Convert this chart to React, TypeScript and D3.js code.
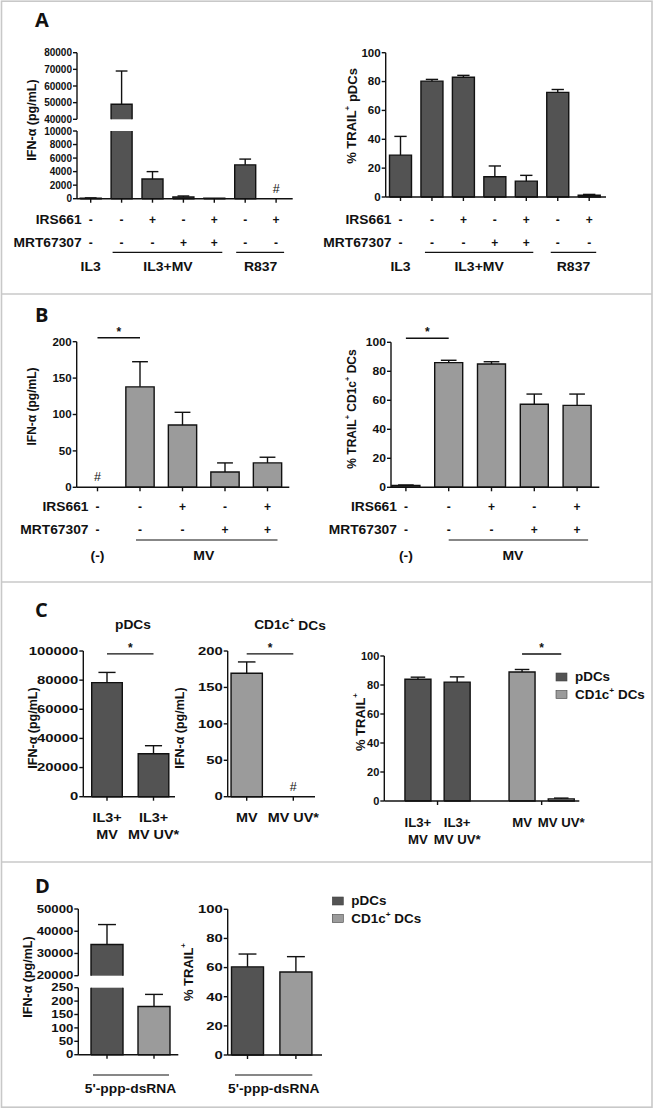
import React from "react";
import * as d3 from "d3";

const FONT = "'Liberation Sans', Arial, Helvetica, sans-serif";
const DARK = "#535353";
const LIGHT = "#9b9b9b";
const INK = "#111111";
const FRAME = "#c8c8c8";

// ---- panel A : pDCs ----
const aConditions = ["IL3", "MV", "MV+IRS661", "MV+MRT67307", "MV+IRS661+MRT67307", "R837", "R837+IRS661"];
const aIrs661 = ["-", "-", "+", "-", "+", "-", "+"];
const aMrt67307 = ["-", "-", "-", "+", "+", "-", "-"];
const aIfnMean: (number | null)[] = [80, 49000, 2900, 250, 60, 5000, null];
const aIfnErr = [40, 20000, 1100, 150, 0, 850, 0];
const aTrailMean = [29, 80.3, 83, 14, 11, 72.5, 1.2];
const aTrailErr = [13, 1.2, 1.3, 7.5, 4, 2, 0.6];
const aGroups = [
  { label: "IL3", from: 0, to: 0, line: false },
  { label: "IL3+MV", from: 1, to: 4, line: true },
  { label: "R837", from: 5, to: 6, line: true },
];
const aIfnTicksLow = [0, 2000, 4000, 6000, 8000, 10000];
const aIfnTicksHigh = [40000, 50000, 60000, 70000, 80000];
const pctTicks = [0, 20, 40, 60, 80, 100];

// ---- panel B : CD1c+ DCs ----
const bConditions = ["(-)", "MV", "MV+IRS661", "MV+MRT67307", "MV+IRS661+MRT67307"];
const bIrs661 = ["-", "-", "+", "-", "+"];
const bMrt67307 = ["-", "-", "-", "+", "+"];
const bIfnMean: (number | null)[] = [null, 138, 85.5, 21, 33.5];
const bIfnErr = [0, 34.5, 17.5, 12.5, 7.8];
const bTrailMean = [1.2, 86, 85, 57.3, 56.5];
const bTrailErr = [0.4, 1.6, 1.6, 7, 7.8];
const bGroups = [
  { label: "(-)", from: 0, to: 0, line: false },
  { label: "MV", from: 1, to: 4, line: true },
];
const bIfnTicks = [0, 50, 100, 150, 200];

// ---- panel C : live vs UV-inactivated MV ----
const cPdcConditions = ["IL3+MV", "IL3+MV UV*"];
const cPdcLabels = [["IL3+", "MV"], ["IL3+", "MV UV*"]];
const cPdcIfnMean = [78300, 29500];
const cPdcIfnErr = [7000, 5500];
const cPdcTicks = [0, 20000, 40000, 60000, 80000, 100000];
const cDcConditions = ["MV", "MV UV*"];
const cDcLabels = [["MV"], ["MV UV*"]];
const cDcIfnMean: (number | null)[] = [169.5, null];
const cDcIfnErr = [15.5, 0];
const cDcTicks = [0, 50, 100, 150, 200];
const cTrailCell = ["pDCs", "pDCs", "CD1c+ DCs", "CD1c+ DCs"];
const cTrailTreat = ["MV", "MV UV*", "MV", "MV UV*"];
const cTrailLabels = [["IL3+", "MV"], ["IL3+", "MV UV*"], ["MV"], ["MV UV*"]];
const cTrailMean = [84, 82, 89, 1.5];
const cTrailErr = [1.4, 3.6, 1.7, 0.5];

// ---- panel D : 5'-ppp-dsRNA ----
const dCells = ["pDCs", "CD1c+ DCs"];
const dIfnMean = [34000, 180];
const dIfnErr = [9000, 45];
const dIfnTicksLow = [0, 50, 100, 150, 200, 250];
const dIfnTicksHigh = [20000, 30000, 40000, 50000];
const dTrailMean = [60.5, 57];
const dTrailErr = [8.8, 10.5];

const cellFill: Record<string, string> = { pDCs: DARK, "CD1c+ DCs": LIGHT };

type Seg = { domain: [number, number]; range: [number, number]; ticks: number[] };

function bandFor(cats: string[], c0: number, step: number, bw: number) {
  const pi = 1 - bw / step;
  return d3.scaleBand<string>()
    .domain(cats)
    .range([c0 - step / 2, c0 - step / 2 + cats.length * step])
    .paddingInner(pi)
    .paddingOuter(pi / 2);
}

function Txt(props: any) {
  const { x, y, size = 11, sx = 1, anchor = "middle", weight = 700, children } = props;
  return (
    <text transform={`translate(${x},${y}) scale(${sx},1)`} fontSize={size} fontWeight={weight}
      textAnchor={anchor} dominantBaseline="central" fill={INK} fontFamily={FONT}>
      {children}
    </text>
  );
}

function Plus({ size }: { size: number }) {
  return <tspan fontSize={size * 0.62} dy={-size * 0.38}>+</tspan>;
}

function Chart(p: {
  means: (number | null)[]; errs: number[]; fills: string[];
  left: (i: number) => number; bw: number;
  axis: [number, number]; segs: Seg[]; tickXs?: number[];
  tickSize: number; tickSx: number;
  title: React.ReactNode; titleAt: [number, number]; titleSize: number;
  sig?: { a: number; b: number; at: number };
}) {
  const scales = p.segs.map((s) => d3.scaleLinear().domain(s.domain).range(s.range));
  const base = scales[0](0);
  const [ax0, ax1] = p.axis;
  const fmt = d3.format("d");
  const centers = p.means.map((_, i) => p.left(i) + p.bw / 2);
  const tickXs = p.tickXs || centers;
  const sw = 1.4;

  return (
    <g>
      {/* bars */}
      {p.means.map((m, i) => {
        const xl = p.left(i), xr = xl + p.bw, cx = centers[i];
        if (m == null) {
          return <Txt key={i} x={cx} y={base - 10} size={12.5} weight={400}>#</Txt>;
        }
        const pieces = p.segs.map((s, k) => {
          const [d0, d1] = s.domain;
          if (k > 0 && m <= d0) return null;
          if (k === 0 && m <= 0) return null;
          const lo = k === 0 ? 0 : d0;
          const hi = Math.min(m, d1);
          const yl = scales[k](lo), yh = scales[k](hi);
          let path = `M${xl},${yl}V${yh}`;
          path += m <= d1 ? `H${xr}V${yl}` : `M${xr},${yh}V${yl}`;
          if (k === 0) path += `H${xl}`;
          return (
            <g key={k}>
              <rect x={xl} y={yh} width={p.bw} height={yl - yh} fill={p.fills[i]} />
              <path d={path} fill="none" stroke={INK} strokeWidth={sw} />
            </g>
          );
        });
        const e = p.errs[i];
        let err = null;
        if (e > 0) {
          const k = p.segs.findIndex((s, j) => (j === 0 ? m <= s.domain[1] : m >= s.domain[0] && m <= s.domain[1]));
          const sc = scales[Math.max(0, k)];
          const yt = sc(m + e);
          const cap = p.bw * 0.28;
          err = (
            <g stroke={INK} strokeWidth={sw}>
              <line x1={cx} x2={cx} y1={sc(m)} y2={yt} />
              <line x1={cx - cap} x2={cx + cap} y1={yt} y2={yt} />
            </g>
          );
        }
        return <g key={i}>{pieces}{err}</g>;
      })}

      {/* y axis */}
      {p.segs.map((s, k) => {
        const sc = scales[k];
        return (
          <g key={k}>
            <line x1={ax0} x2={ax0} y1={sc(s.domain[0])} y2={sc(s.domain[1])} stroke={INK} strokeWidth={sw} />
            {s.ticks.map((t) => (
              <g key={t}>
                <line x1={ax0 - 4} x2={ax0} y1={sc(t)} y2={sc(t)} stroke={INK} strokeWidth={sw} />
                <Txt x={ax0 - 5} y={sc(t)} size={p.tickSize} sx={p.tickSx} anchor="end">{fmt(t)}</Txt>
              </g>
            ))}
          </g>
        );
      })}

      {/* x axis */}
      <line x1={ax0} x2={ax1} y1={base} y2={base} stroke={INK} strokeWidth={sw} />
      {tickXs.map((tx, i) => (
        <line key={i} x1={tx} x2={tx} y1={base} y2={base + 4} stroke={INK} strokeWidth={sw} />
      ))}

      {/* axis title */}
      <text transform={`translate(${p.titleAt[0]},${p.titleAt[1]}) rotate(-90)`} fontSize={p.titleSize}
        fontWeight={700} textAnchor="middle" dominantBaseline="central" fill={INK} fontFamily={FONT}>
        {p.title}
      </text>

      {/* significance */}
      {p.sig && (() => {
        const ys = scales[0](p.sig!.at);
        const xa = centers[p.sig!.a], xb = centers[p.sig!.b];
        return (
          <g>
            <line x1={xa} x2={xb} y1={ys} y2={ys} stroke={INK} strokeWidth={sw} />
            <Txt x={(xa + xb) / 2} y={ys - 6} size={12}>*</Txt>
          </g>
        );
      })()}
    </g>
  );
}

function Treatments(p: {
  centers: number[]; base: number;
  rows: { name: string; signs: string[] }[];
  groups: { label: string; from: number; to: number; line: boolean }[];
  rowDy: number[]; lineDy: number; groupDy: number; ext: [number, number];
}) {
  const labelX = p.centers[0] - 9;
  return (
    <g>
      {p.rows.map((r, k) => (
        <g key={r.name}>
          <Txt x={labelX} y={p.base + p.rowDy[k]} anchor="end" size={12} sx={1.15}>{r.name}</Txt>
          {r.signs.map((s, i) => (
            <Txt key={i} x={p.centers[i]} y={p.base + p.rowDy[k]} size={12}>{s}</Txt>
          ))}
        </g>
      ))}
      {p.groups.map((g) => {
        const c0 = p.centers[g.from], c1 = p.centers[g.to];
        return (
          <g key={g.label}>
            {g.line && (
              <line x1={c0 + p.ext[0]} x2={c1 + p.ext[1]} y1={p.base + p.lineDy} y2={p.base + p.lineDy}
                stroke={INK} strokeWidth={1.2} />
            )}
            <Txt x={(c0 + c1) / 2} y={p.base + p.groupDy} size={12.5} sx={1.12}>{g.label}</Txt>
          </g>
        );
      })}
    </g>
  );
}

function XLabels({ centers, labels, y, size, sx }: { centers: number[]; labels: string[][]; y: number; size: number; sx: number }) {
  return (
    <g>
      {labels.map((lines, i) =>
        lines.map((t, j) => (
          <Txt key={`${i}-${j}`} x={centers[i]} y={y + j * 16.7} size={size} sx={sx}>{t}</Txt>
        ))
      )}
    </g>
  );
}

function Legend({ x, y }: { x: number; y: number }) {
  return (
    <g>
      {dCells.map((c, i) => (
        <g key={c}>
          <rect x={x} y={y + i * 17.5 - 4} width={11} height={8} fill={cellFill[c]} stroke="#444" strokeWidth={0.6} />
          <Txt x={x + 19} y={y + i * 17.5} size={12} sx={1.12} anchor="start">
            {c === "pDCs" ? "pDCs" : <>CD1c<Plus size={12} /><tspan dy={12 * 0.38}> DCs</tspan></>}
          </Txt>
        </g>
      ))}
    </g>
  );
}

export default function App() {
  const W = 654, H = 1110;

  // panel A
  const xAL = bandFor(aConditions, 90.7, 30.9, 21);
  const xAR = bandFor(aConditions, 400.5, 31.45, 22);
  const aLeftSegs: Seg[] = [
    { domain: [0, 10000], range: [198.7, 131], ticks: aIfnTicksLow },
    { domain: [40000, 80000], range: [119.3, 52.7], ticks: aIfnTicksHigh },
  ];
  const aRightSegs: Seg[] = [{ domain: [0, 100], range: [197, 52.7], ticks: pctTicks }];
  const cAL = aConditions.map((c) => xAL(c)! + xAL.bandwidth() / 2);
  const cAR = aConditions.map((c) => xAR(c)! + xAR.bandwidth() / 2);
  const aRows = [{ name: "IRS661", signs: aIrs661 }, { name: "MRT67307", signs: aMrt67307 }];

  // panel B
  const xBL = bandFor(bConditions, 97.5, 42.5, 28.3);
  const xBR = bandFor(bConditions, 405.9, 42.8, 28);
  const cBL = bConditions.map((c) => xBL(c)! + xBL.bandwidth() / 2);
  const cBR = bConditions.map((c) => xBR(c)! + xBR.bandwidth() / 2);
  const bRows = [{ name: "IRS661", signs: bIrs661 }, { name: "MRT67307", signs: bMrt67307 }];

  // panel C
  const xCL = bandFor(cPdcConditions, 107, 46.5, 30.6);
  const xCM = bandFor(cDcConditions, 246.7, 46.6, 31.3);
  const cCL = cPdcConditions.map((c) => xCL(c)! + xCL.bandwidth() / 2);
  const cCM = cDcConditions.map((c) => xCM(c)! + xCM.bandwidth() / 2);
  const groupX = d3.scaleBand<string>().domain(dCells).range([385.5, 593.7]);
  const innerX = bandFor(cDcConditions, 32.45, 39.2, 26);
  const leftCR = (i: number) => groupX(cTrailCell[i])! + innerX(cTrailTreat[i])!;
  const cCR = cTrailCell.map((_, i) => leftCR(i) + innerX.bandwidth() / 2);
  const groupTicks = dCells.map((c) => groupX(c)! + groupX.bandwidth() / 2);

  // panel D
  const xDL = bandFor(dCells, 107, 47, 32);
  const xDR = bandFor(dCells, 247.5, 48.4, 32);
  const cDL = dCells.map((c) => xDL(c)! + xDL.bandwidth() / 2);
  const cDR = dCells.map((c) => xDR(c)! + xDR.bandwidth() / 2);
  const dFills = dCells.map((c) => cellFill[c]);

  const ifnTitle = "IFN-\u03b1 (pg/mL)";

  return (
    <svg width={W} height={H} style={{ position: "absolute", left: 0, top: 0, background: "#fff" }} fontFamily={FONT}>
      <rect width={W} height={H} fill="#fff" />
      <rect x={1.5} y={1.2} width={650.5} height={1106} fill="none" stroke={FRAME} strokeWidth={1.6} />
      {[294, 582, 862].map((y) => (
        <line key={y} x1={1.5} x2={652} y1={y} y2={y} stroke={FRAME} strokeWidth={1.6} />
      ))}
      {[["A", 26.7], ["B", 321.7], ["C", 616.7], ["D", 893.3]].map(([l, y]) => (
        <text key={l as string} x={35} y={y as number} fontSize={20} fontWeight={700} fontFamily="'Open Sans', sans-serif" fill={INK}>{l}</text>
      ))}

      {/* A left */}
      <Chart means={aIfnMean} errs={aIfnErr} fills={aConditions.map(() => DARK)}
        left={(i) => xAL(aConditions[i])!} bw={xAL.bandwidth()} axis={[77, 292.7]} segs={aLeftSegs}
        tickSize={10} tickSx={1} title={ifnTitle} titleAt={[31.7, 120]} titleSize={12.5} />
      <Treatments centers={cAL} base={198.7} rows={aRows} groups={aGroups} rowDy={[21.3, 44]} lineDy={53.6} groupDy={68} ext={[-9, 8]} />

      {/* A right */}
      <Chart means={aTrailMean} errs={aTrailErr} fills={aConditions.map(() => DARK)}
        left={(i) => xAR(aConditions[i])!} bw={xAR.bandwidth()} axis={[385.7, 606]} segs={aRightSegs}
        tickSize={10.5} tickSx={1.1} titleAt={[351.7, 116]} titleSize={13}
        title={<>% TRAIL<Plus size={13} /><tspan dy={13 * 0.38}> pDCs</tspan></>} />
      <Treatments centers={cAR} base={197} rows={aRows} groups={aGroups} rowDy={[23, 45.7]} lineDy={55.3} groupDy={69.7} ext={[-7, 7]} />

      {/* B left */}
      <Chart means={bIfnMean} errs={bIfnErr} fills={bConditions.map(() => LIGHT)}
        left={(i) => xBL(bConditions[i])!} bw={xBL.bandwidth()} axis={[76.7, 289.3]}
        segs={[{ domain: [0, 200], range: [487.3, 341.7], ticks: bIfnTicks }]}
        tickSize={10.5} tickSx={1.1} title={ifnTitle} titleAt={[31.7, 406.5]} titleSize={12}
        sig={{ a: 0, b: 1, at: 205.5 }} />
      <Treatments centers={cBL} base={487.3} rows={bRows} groups={bGroups} rowDy={[20, 42.7]} lineDy={52.7} groupDy={68.4} ext={[-4, 10]} />

      {/* B right */}
      <Chart means={bTrailMean} errs={bTrailErr} fills={bConditions.map(() => LIGHT)}
        left={(i) => xBR(bConditions[i])!} bw={xBR.bandwidth()} axis={[391, 599.3]}
        segs={[{ domain: [0, 100], range: [487.3, 342.3], ticks: pctTicks }]}
        tickSize={10.5} tickSx={1.15} titleAt={[351.7, 409]} titleSize={12}
        title={<>% TRAIL<Plus size={12} /><tspan dy={12 * 0.38}> CD1c</tspan><Plus size={12} /><tspan dy={12 * 0.38}> DCs</tspan></>}
        sig={{ a: 0, b: 1, at: 102.8 }} />
      <Treatments centers={cBR} base={487.3} rows={bRows} groups={bGroups} rowDy={[20, 42.7]} lineDy={52.7} groupDy={68.4} ext={[0, 11]} />

      {/* C left */}
      <Txt x={133} y={625} size={12} sx={1.15}>pDCs</Txt>
      <Chart means={cPdcIfnMean} errs={cPdcIfnErr} fills={cPdcConditions.map(() => DARK)}
        left={(i) => xCL(cPdcConditions[i])!} bw={xCL.bandwidth()} axis={[83.3, 175]}
        segs={[{ domain: [0, 100000], range: [796.7, 651], ticks: cPdcTicks }]}
        tickSize={11} tickSx={1.35} title={ifnTitle} titleAt={[33.3, 728]} titleSize={12.5}
        sig={{ a: 0, b: 1, at: 98000 }} />
      <XLabels centers={cCL} labels={cPdcLabels} y={818.3} size={12} sx={1.2} />

      {/* C middle */}
      <Txt x={290} y={625} size={12} sx={1.15}>CD1c<Plus size={12} /><tspan dy={12 * 0.38}> DCs</tspan></Txt>
      <Chart means={cDcIfnMean} errs={cDcIfnErr} fills={cDcConditions.map(() => LIGHT)}
        left={(i) => xCM(cDcConditions[i])!} bw={xCM.bandwidth()} axis={[227.7, 315]}
        segs={[{ domain: [0, 200], range: [796.7, 651], ticks: cDcTicks }]}
        tickSize={11} tickSx={1.35} title={ifnTitle} titleAt={[180, 728]} titleSize={12.5}
        sig={{ a: 0, b: 1, at: 196 }} />
      <XLabels centers={cCM} labels={cDcLabels} y={818.3} size={12} sx={1.2} />

      {/* C right */}
      <Chart means={cTrailMean} errs={cTrailErr} fills={cTrailCell.map((c) => cellFill[c])}
        left={leftCR} bw={innerX.bandwidth()} axis={[384.3, 579.3]} tickXs={groupTicks}
        segs={[{ domain: [0, 100], range: [801, 656], ticks: pctTicks }]}
        tickSize={10.5} tickSx={1.05} titleAt={[360, 722]} titleSize={13}
        title={<>% TRAIL<Plus size={13} /></>}
        sig={{ a: 2, b: 3, at: 101.4 }} />
      <XLabels centers={cCR} labels={cTrailLabels} y={823.3} size={12} sx={1.1} />
      <Legend x={556} y={677} />

      {/* D left */}
      <Chart means={dIfnMean} errs={dIfnErr} fills={dFills}
        left={(i) => xDL(dCells[i])!} bw={xDL.bandwidth()} axis={[78.3, 178.3]}
        segs={[
          { domain: [0, 250], range: [1054.7, 987.7], ticks: dIfnTicksLow },
          { domain: [20000, 50000], range: [975.7, 909], ticks: dIfnTicksHigh },
        ]}
        tickSize={11} tickSx={1.2} title={ifnTitle} titleAt={[28.3, 977]} titleSize={12.5} />
      <line x1={cDL[0] - 14} x2={cDL[1] + 15} y1={1075} y2={1075} stroke={INK} strokeWidth={1.2} />
      <Txt x={(cDL[0] + cDL[1]) / 2} y={1089} size={12} sx={1.15}>5'-ppp-dsRNA</Txt>

      {/* D right */}
      <Chart means={dTrailMean} errs={dTrailErr} fills={dFills}
        left={(i) => xDR(dCells[i])!} bw={xDR.bandwidth()} axis={[227.7, 322]}
        segs={[{ domain: [0, 100], range: [1055, 909.3], ticks: pctTicks }]}
        tickSize={11} tickSx={1.35} titleAt={[188.3, 972]} titleSize={13}
        title={<>% TRAIL<Plus size={13} /></>} />
      <line x1={cDR[0] - 12.5} x2={cDR[1] + 16.4} y1={1075} y2={1075} stroke={INK} strokeWidth={1.2} />
      <Txt x={(cDR[0] + cDR[1]) / 2 + 2} y={1089} size={12} sx={1.15}>5'-ppp-dsRNA</Txt>
      <Legend x={332.3} y={901} />
    </svg>
  );
}
